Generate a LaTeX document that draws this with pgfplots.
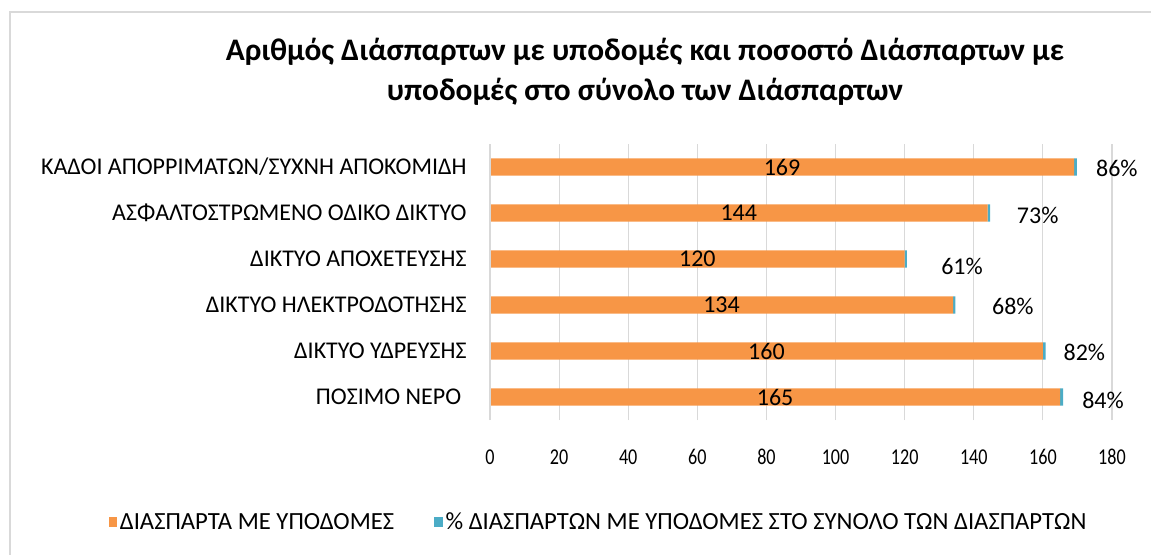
\documentclass[border=0pt]{standalone}
\usepackage{pgfplots}
\pgfplotsset{compat=1.18}
\usepackage{fontspec}
\setmainfont{Carlito}
\newfontfamily\condensed[FakeStretch=0.8]{Carlito}
\definecolor{orng}{HTML}{F79646}
\definecolor{blu}{HTML}{4BACC6}
\definecolor{gridc}{HTML}{D9D9D9}
\begin{document}
\begin{tikzpicture}[x=0.75pt,y=0.75pt]
% frame
\draw[gridc, line width=1.5pt] (10,-5) -- (10,542) -- (1160,542);
% title
\node[align=center, font=\fontsize{23.5}{30}\selectfont\bfseries] at (645,482)
  {Αριθμός Διάσπαρτων με υποδομές και ποσοστό Διάσπαρτων με\\ υποδομές στο σύνολο των Διάσπαρτων};
\begin{axis}[
  at={(367.5pt,100.5pt)}, anchor=south west,
  scale only axis, width=466.5pt, height=207pt,
  xbar stacked, bar width=13pt,
  xmin=0, xmax=180, ymin=-0.5, ymax=5.5,
  xtick={0,20,...,180},
  ytick={0,1,2,3,4,5},
  yticklabels={ΠΟΣΙΜΟ ΝΕΡΟ\ \ , ΔΙΚΤΥΟ ΥΔΡΕΥΣΗΣ\ , ΔΙΚΤΥΟ ΗΛΕΚΤΡΟΔΟΤΗΣΗΣ, ΔΙΚΤΥΟ ΑΠΟΧΕΤΕΥΣΗΣ\ , ΑΣΦΑΛΤΟΣΤΡΩΜΕΝΟ ΟΔΙΚΟ ΔΙΚΤΥΟ, ΚΑΔΟΙ ΑΠΟΡΡΙΜΑΤΩΝ/ΣΥΧΝΗ ΑΠΟΚΟΜΙΔΗ},
  xmajorgrids, grid style={gridc, line width=0.8pt},
  axis line style={draw=none},
  axis x line*=bottom, axis y line*=left,
  x axis line style={draw=none},
  tick style={draw=none},
  /pgf/number format/assume math mode=true,
  yticklabel style={font=\fontsize{18}{20}\selectfont, xshift=-14pt},
  xticklabel style={font=\condensed\fontsize{17}{20}\selectfont, yshift=-17.5pt, text height=12pt, text depth=0pt},
  legend columns=2,
  legend style={draw=none, at={(0.175,-0.37)}, anchor=center,
    font=\fontsize{18.5}{20}\selectfont, /tikz/every even column/.append style={column sep=28pt}},
  legend image code/.code={\fill[#1] (0pt,-4pt) rectangle (6.5pt,4pt);},
]
\draw[gridc, line width=0.8pt] (axis cs:0,-0.5) -- (axis cs:0,5.5);
\addplot[fill=orng, draw=none] coordinates {(165,0) (160,1) (134,2) (120,3) (144,4) (169,5)};
\addlegendentry{ΔΙΑΣΠΑΡΤΑ ΜΕ ΥΠΟΔΟΜΕΣ}
\addplot[fill=blu, draw=none] coordinates {(0.84,0) (0.82,1) (0.68,2) (0.61,3) (0.73,4) (0.86,5)};
\addlegendentry{\% ΔΙΑΣΠΑΡΤΩΝ ΜΕ ΥΠΟΔΟΜΕΣ ΣΤΟ ΣΥΝΟΛΟ ΤΩΝ ΔΙΑΣΠΑΡΤΩΝ}
\end{axis}
\begin{axis}[
  at={(367.5pt,100.5pt)}, anchor=south west,
  scale only axis, width=466.5pt, height=207pt,
  xmin=0, xmax=180, ymin=-0.5, ymax=5.5, hide axis,
  clip=false,
]
\addplot[draw=none, mark=none, nodes near coords, point meta=explicit symbolic,
  nodes near coords align={center}, every node near coord/.append style={font=\fontsize{18}{20}\selectfont}]
  coordinates {(82.5,0)[165] (80,1)[160] (67,2)[134] (60,3)[120] (72,4)[144] (84.5,5)[169]};
\addplot[draw=none, mark=none, nodes near coords, point meta=explicit symbolic,
  nodes near coords align={center}, every node near coord/.append style={font=\fontsize{18}{20}\selectfont}]
  coordinates {(177.4,-0.07)[84\%] (172,0.96)[82\%] (151.3,1.97)[68\%] (136.6,2.84)[61\%] (158.5,3.95)[73\%] (181.4,4.98)[86\%]};
\end{axis}
\pgfresetboundingbox
\useasboundingbox (0,0) rectangle (1151,554);
\end{tikzpicture}
\end{document}
